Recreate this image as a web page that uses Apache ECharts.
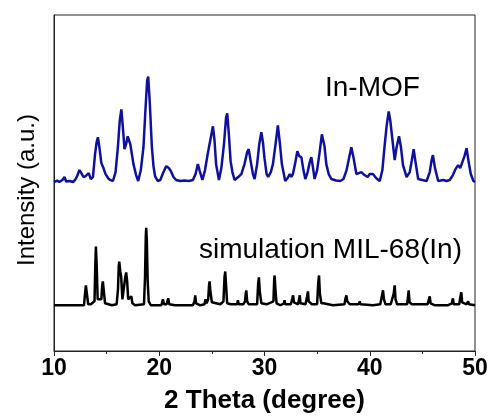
<!DOCTYPE html>
<html>
<head>
<meta charset="utf-8">
<script src="https://cdn.jsdelivr.net/npm/echarts@6/dist/echarts.min.js"></script>
<style>html,body{margin:0;padding:0;background:#fff;}#c{width:492px;height:419px;}</style>
</head>
<body>
<div id="c"></div>
<script>
// X axis ticks
const xTicks = [10, 20, 30, 40, 50];

// In-MOF (experimental) pattern: 2θ and intensity (arbitrary units, offset)
const mofTheta = [10.0,10.3,10.5,10.8,11.0,11.15,11.5,11.8,12.0,12.2,12.42,12.6,12.8,13.0,13.15,13.3,13.5,13.7,13.9,14.05,14.17,14.3,14.5,14.7,14.9,15.2,15.6,15.85,16.07,16.25,16.4,16.55,16.7,16.85,17.0,17.1,17.25,17.55,17.8,18.0,18.25,18.5,18.7,18.85,18.95,19.1,19.3,19.45,19.6,19.85,20.1,20.4,20.67,20.9,21.1,21.35,21.6,22.0,22.4,22.8,23.2,23.45,23.67,23.85,24.1,24.35,24.6,24.85,25.1,25.25,25.4,25.67,25.9,26.15,26.35,26.46,26.6,26.78,26.95,27.16,27.5,27.8,28.1,28.35,28.5,28.7,28.9,29.06,29.3,29.5,29.7,29.85,30.0,30.2,30.35,30.6,30.8,31.05,31.27,31.45,31.65,31.97,32.2,32.4,32.55,32.7,32.9,33.12,33.3,33.5,33.7,33.88,34.1,34.3,34.45,34.6,34.76,35.0,35.24,35.45,35.55,35.7,35.87,36.1,36.35,36.8,37.2,37.5,37.8,38.05,38.25,38.45,38.73,38.9,39.2,39.5,39.8,40.0,40.3,40.6,40.95,41.2,41.4,41.6,41.8,41.95,42.15,42.37,42.55,42.78,42.95,43.16,43.5,43.8,44.0,44.17,44.35,44.6,45.0,45.4,45.7,45.88,46.0,46.2,46.5,47.0,47.3,47.6,47.9,48.15,48.4,48.6,48.75,49.0,49.2,49.4,49.6,49.85,50.0];
const mofIntensity = [170,171.5,170,172,175,170.5,171,170,172,176,182,179,175,176,174,179,173,175,198,210,215,206,189,184,178,173,171,180,205,232,243,224,203,208,216,218,208,188,177,171,182,205,245,272,276,250,205,186,176,171,172,180,186,184,181,175,172,171,171.5,171,172,178,188,181,172,182,198,212,226,212,188,172,184,208,235,239,220,191,180,172,175,178,188,200,203,190,178,173,188,208,220,210,194,178,175,180,188,208,227,210,188,171,174,178,175,178,188,201,196,195,182,173,180,190,195,185,173,182,200,218,220,206,188,178,173,171.5,171,173,182,195,205,195,178,176,180,177,175,178,178,174,171,182,205,226,241,232,213,192,205,216,206,187,175,180,192,203,190,173,172,171,180,192,197,184,171,172,171,172,177,183,187,184,186,196,204,190,178,171,170];

// Simulated MIL-68(In) pattern
const simTheta = [10.0,11.5,12.2,12.3,12.4,12.85,12.95,13.03,13.12,13.25,13.5,13.85,13.92,13.98,14.05,14.15,14.3,14.5,14.58,14.64,14.72,14.85,15.5,15.95,16.08,16.15,16.2,16.3,16.38,16.5,16.65,16.78,16.86,16.95,17.05,17.2,17.34,17.45,17.7,18.55,18.65,18.72,18.76,18.82,18.9,19.0,19.2,20.2,20.35,20.45,20.7,20.85,20.95,21.5,23.2,23.35,23.42,23.5,23.9,24.3,24.4,24.5,24.65,24.73,24.78,24.86,25.0,25.8,26.1,26.2,26.27,26.35,26.45,26.8,27.4,27.47,27.55,28.0,28.15,28.22,28.27,28.35,28.5,29.3,29.4,29.47,29.55,29.7,30.2,30.85,30.92,30.96,31.05,31.15,31.5,31.85,31.9,31.97,32.5,32.65,32.72,32.8,33.2,33.3,33.35,33.42,33.9,34.05,34.13,34.2,34.5,35.0,35.1,35.18,35.26,35.4,35.6,35.65,35.72,36.5,37.6,37.7,37.78,37.86,38.1,38.95,39.05,39.12,40.3,41.0,41.15,41.26,41.35,41.5,42.0,42.28,42.37,42.45,42.6,43.55,43.65,43.7,43.78,44.0,45.5,45.62,45.7,45.78,46.2,47.4,47.8,47.9,47.98,48.5,48.62,48.7,48.78,49.2,49.35,49.42,50.0];
const simIntensity = [46,46,46,48,46,46,58,66,58,47,47,50,85,105,88,52,50,52,66,70,62,48,46,47,62,85,90,80,75,52,50,75,79,70,52,50,55,48,46,47,75,115,124,112,70,50,46,46,52,47,47,53,47,46,46,50,56,48,46,47,52,48,52,66,70,60,49,47,50,74,80,66,48,47,47,51,47,47,50,58,61,50,47,47,68,74,60,48,47,50,72,76,60,48,46,48,51,47,47,53,56,49,47,53,56,48,47,55,60,50,47,47,68,76,58,48,48,50,47,46,47,53,56,50,47,47,50,47,46,47,55,61,52,47,47,58,66,52,47,47,56,61,49,47,47,52,55,48,46,46,48,53,47,47,55,59,49,47,50,47,46];

// Series labels
const mofLabel = 'In-MOF';
const simLabel = 'simulation MIL-68(In)';

function pairs(xs, ys) { return xs.map((x, i) => [x, ys[i]]); }

const FONT = '"Liberation Sans", Arial, Helvetica, sans-serif';
const chart = echarts.init(document.getElementById('c'), null, {renderer: 'canvas'});
chart.setOption({
  animation: false,
  backgroundColor: '#fff',
  grid: {left: 54, right: 17, top: 15, bottom: 66, show: true, borderColor: '#222', borderWidth: 1, backgroundColor: 'transparent'},
  xAxis: {
    type: 'value', min: xTicks[0], max: xTicks[xTicks.length - 1], interval: 10,
    name: '2 Theta (degree)', nameLocation: 'middle', nameGap: 37,
    nameTextStyle: {fontFamily: FONT, fontSize: 26, fontWeight: 'bold', color: '#000'},
    axisLine: {show: true, lineStyle: {color: '#222', width: 1}},
    axisTick: {show: true, length: 5, lineStyle: {color: '#222'}},
    minorTick: {show: true, splitNumber: 2, length: 3, lineStyle: {color: '#222'}},
    axisLabel: {fontFamily: FONT, fontSize: 23, fontWeight: 'bold', color: '#000', margin: 6},
    splitLine: {show: false}
  },
  yAxis: {
    type: 'value', min: 0, max: 338,
    axisLine: {show: true, lineStyle: {color: '#222', width: 1}},
    axisTick: {show: false}, axisLabel: {show: false}, splitLine: {show: false}
  },
  series: [
    {type: 'line', data: pairs(mofTheta, mofIntensity), showSymbol: false, symbol: 'none',
     lineStyle: {color: '#1010a0', width: 2.5}, z: 3},
    {type: 'line', data: pairs(simTheta, simIntensity), showSymbol: false, symbol: 'none',
     lineStyle: {color: '#000', width: 2.5}, z: 3}
  ],
  graphic: [
    {type: 'text', left: 325, top: 74, style: {text: mofLabel, font: '28px ' + FONT, fill: '#000'}},
    {type: 'text', left: 199, top: 236, style: {text: simLabel, font: '28px ' + FONT, fill: '#000'}},
    {type: 'text', x: 27, y: 190, rotation: Math.PI / 2,
     style: {text: 'Intensity (a.u.)', font: '24px ' + FONT, fill: '#000', align: 'center', verticalAlign: 'middle'}}
  ]
});
</script>
</body>
</html>
